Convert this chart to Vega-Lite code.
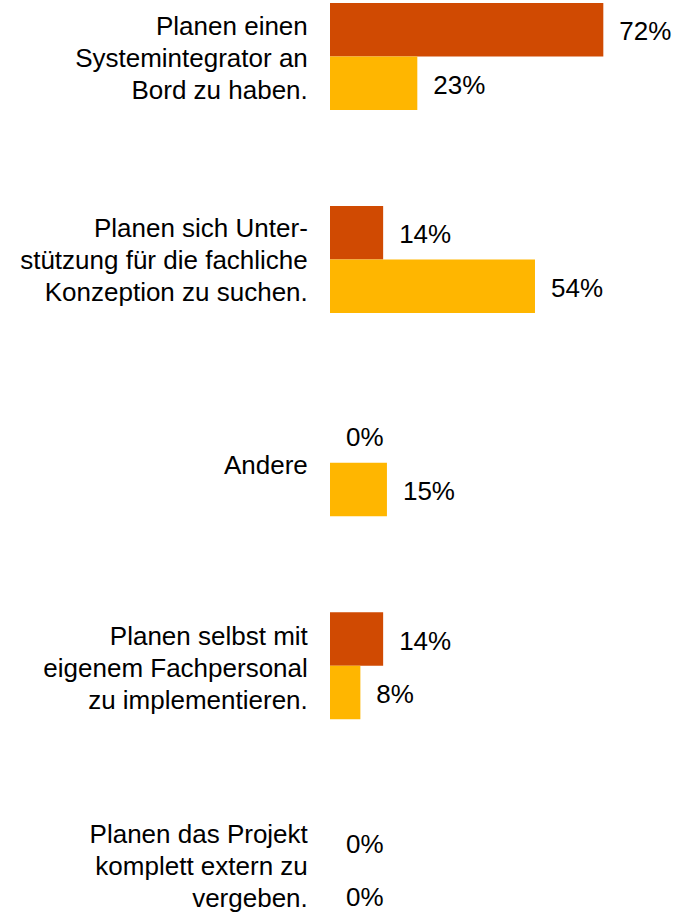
{
  "$schema": "https://vega.github.io/schema/vega-lite/v6.json",
  "width": 344,
  "height": 909,
  "autosize": {"type": "none"},
  "padding": {"top": 3, "left": 330, "right": 0, "bottom": 0},
  "config": {"view": {"stroke": null}, "font": "Liberation Sans"},
  "data": {
    "values": [
      {"kategorie": "Planen einen|Systemintegrator an|Bord zu haben.", "reihe": "Reihe 1", "anteil": 0.72},
      {"kategorie": "Planen einen|Systemintegrator an|Bord zu haben.", "reihe": "Reihe 2", "anteil": 0.23},
      {"kategorie": "Planen sich Unter-|stützung für die fachliche|Konzeption zu suchen.", "reihe": "Reihe 1", "anteil": 0.14},
      {"kategorie": "Planen sich Unter-|stützung für die fachliche|Konzeption zu suchen.", "reihe": "Reihe 2", "anteil": 0.54},
      {"kategorie": "Andere", "reihe": "Reihe 1", "anteil": 0},
      {"kategorie": "Andere", "reihe": "Reihe 2", "anteil": 0.15},
      {"kategorie": "Planen selbst mit|eigenem Fachpersonal|zu implementieren.", "reihe": "Reihe 1", "anteil": 0.14},
      {"kategorie": "Planen selbst mit|eigenem Fachpersonal|zu implementieren.", "reihe": "Reihe 2", "anteil": 0.08},
      {"kategorie": "Planen das Projekt|komplett extern zu|vergeben.", "reihe": "Reihe 1", "anteil": 0},
      {"kategorie": "Planen das Projekt|komplett extern zu|vergeben.", "reihe": "Reihe 2", "anteil": 0}
    ]
  },
  "encoding": {
    "y": {
      "field": "kategorie",
      "type": "nominal",
      "sort": null,
      "scale": {"range": [0, 919.4], "paddingInner": 0.4732, "paddingOuter": 0},
      "axis": {
        "title": null,
        "domain": false,
        "ticks": false,
        "grid": false,
        "labelExpr": "split(datum.label, '|')",
        "labelFont": "Liberation Sans",
        "labelFontSize": 26,
        "labelLineHeight": 32,
        "labelColor": "#000000",
        "labelPadding": 22.7,
        "labelLimit": 330,
        "labelAlign": "right",
        "labelBaseline": "middle",
        "labelOffset": {"expr": "datum.value == 'Andere' ? 3.5 : indexof(datum.value, 'Planen das') == 0 ? -34 : indexof(datum.value, 'Planen sich') == 0 ? -30.5 : -29"}
      }
    },
    "yOffset": {
      "field": "reihe",
      "type": "nominal",
      "sort": ["Reihe 1", "Reihe 2"],
      "scale": {"paddingInner": 0, "paddingOuter": 0}
    },
    "x": {
      "field": "anteil",
      "type": "quantitative",
      "scale": {"domain": [0, 0.9062]},
      "axis": null
    }
  },
  "layer": [
    {
      "mark": {"type": "bar"},
      "encoding": {
        "color": {
          "field": "reihe",
          "type": "nominal",
          "scale": {"domain": ["Reihe 1", "Reihe 2"], "range": ["#d04a02", "#ffb600"]},
          "legend": null
        }
      }
    },
    {
      "mark": {"type": "text", "align": "left", "baseline": "middle", "dx": 16, "dy": 2.5, "fontSize": 26, "font": "Liberation Sans", "color": "#000000"},
      "encoding": {
        "text": {"field": "anteil", "type": "quantitative", "format": ".0%"}
      }
    }
  ]
}
